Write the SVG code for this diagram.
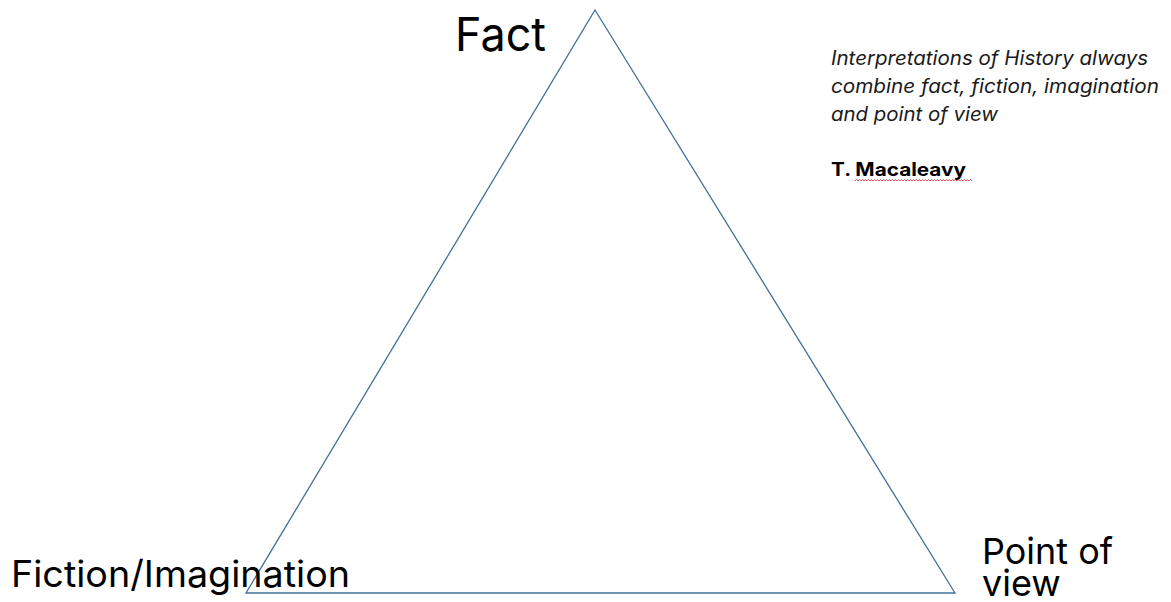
<svg xmlns="http://www.w3.org/2000/svg" width="1171" height="602" viewBox="0 0 1171 602">
  <style>
    .edge { fill: none; stroke: #41719C; stroke-width: 1.3; }
    .label { font-family: Inter, "Noto Sans", "Liberation Sans", sans-serif; fill: #000; }
    .quote { font-family: Inter, "Noto Sans", "Liberation Sans", sans-serif; font-size: 19.5px; font-style: italic; fill: #1a1a1a; }
    .author { font-family: Inter, "Noto Sans", "Liberation Sans", sans-serif; font-size: 18.5px; font-weight: bold; fill: #000; }
  </style>
  <rect width="1171" height="602" fill="#fff"/>

  <!-- triangle outline -->
  <g id="connectors">
    <polygon class="edge" points="595,10 955,593 246,593"/>
  </g>

  <g id="node-fact">
    <text class="label" x="455" y="51" font-size="47" textLength="91" lengthAdjust="spacingAndGlyphs">Fact</text>
  </g>

  <g id="node-fiction">
    <text class="label" x="11" y="587" font-size="37" textLength="339" lengthAdjust="spacingAndGlyphs">Fiction/Imagination</text>
  </g>

  <g id="node-pov">
    <text class="label" x="982" y="564" font-size="36" textLength="131" lengthAdjust="spacingAndGlyphs">Point of</text>
    <text class="label" x="982" y="596" font-size="36">view</text>
  </g>

  <g id="node-quote">
    <text class="quote" x="831" y="65" textLength="317" lengthAdjust="spacingAndGlyphs">Interpretations of History always</text>
    <text class="quote" x="831" y="93" textLength="328" lengthAdjust="spacingAndGlyphs">combine fact, fiction, imagination</text>
    <text class="quote" x="831" y="121" textLength="167" lengthAdjust="spacingAndGlyphs">and point of view</text>
    <text class="author" x="831" y="176" textLength="135" lengthAdjust="spacingAndGlyphs">T. Macaleavy</text>
    <!-- spelling mark under the surname -->
    <path d="M855,181 l1.5,-1.5 l1.5,1.5 l1.5,-1.5 l1.5,1.5 l1.5,-1.5 l1.5,1.5 l1.5,-1.5 l1.5,1.5 l1.5,-1.5 l1.5,1.5 l1.5,-1.5 l1.5,1.5 l1.5,-1.5 l1.5,1.5 l1.5,-1.5 l1.5,1.5 l1.5,-1.5 l1.5,1.5 l1.5,-1.5 l1.5,1.5 l1.5,-1.5 l1.5,1.5 l1.5,-1.5 l1.5,1.5 l1.5,-1.5 l1.5,1.5 l1.5,-1.5 l1.5,1.5 l1.5,-1.5 l1.5,1.5 l1.5,-1.5 l1.5,1.5 l1.5,-1.5 l1.5,1.5 l1.5,-1.5 l1.5,1.5 l1.5,-1.5 l1.5,1.5 l1.5,-1.5 l1.5,1.5 l1.5,-1.5 l1.5,1.5 l1.5,-1.5 l1.5,1.5 l1.5,-1.5 l1.5,1.5 l1.5,-1.5 l1.5,1.5 l1.5,-1.5 l1.5,1.5 l1.5,-1.5 l1.5,1.5 l1.5,-1.5 l1.5,1.5 l1.5,-1.5 l1.5,1.5 l1.5,-1.5 l1.5,1.5 l1.5,-1.5 l1.5,1.5 l1.5,-1.5 l1.5,1.5 l1.5,-1.5 l1.5,1.5 l1.5,-1.5 l1.5,1.5 l1.5,-1.5 l1.5,1.5 l1.5,-1.5 l1.5,1.5 l1.5,-1.5 l1.5,1.5 l1.5,-1.5 l1.5,1.5 l1.5,-1.5 l1.5,1.5 l1.5,-1.5 l1.5,1.5" fill="none" stroke="#e03030" stroke-width="0.8"/>
  </g>
</svg>
